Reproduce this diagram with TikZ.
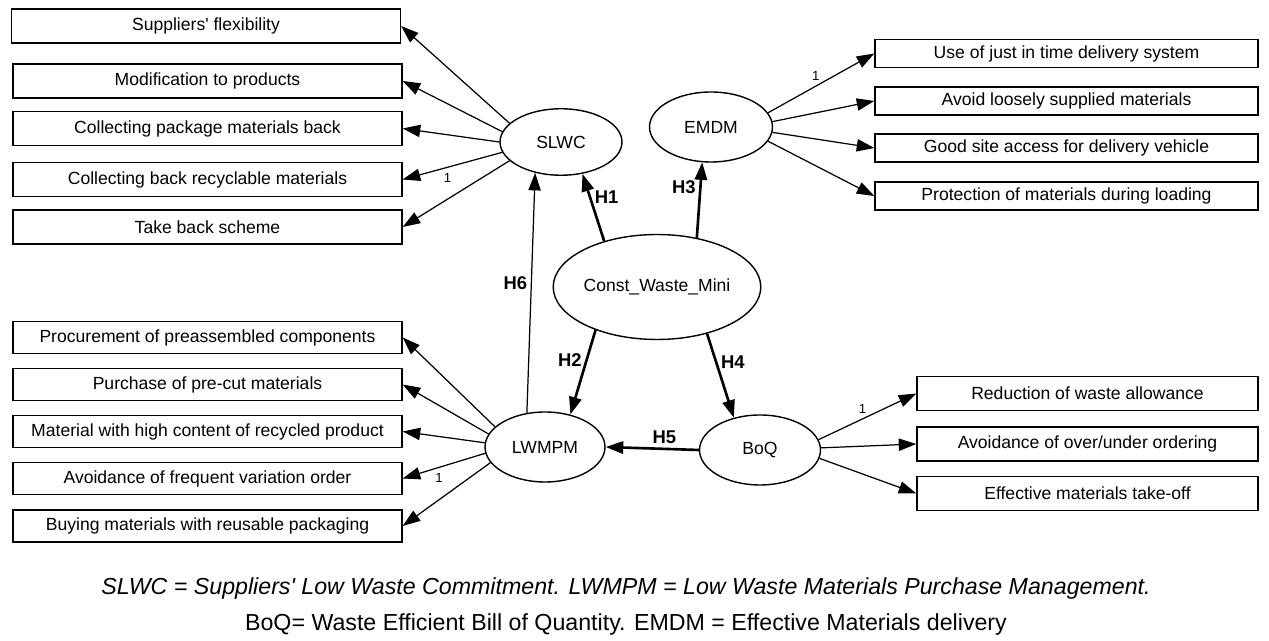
\documentclass[tikz,border=0pt]{standalone}
\usepackage{fontspec}
\setmainfont{Liberation Sans}
\usetikzlibrary{arrows.meta,shapes.geometric}

\begin{document}
\begin{tikzpicture} [
    x=0.02cm, y=-0.02cm,
    every node/.style = { font=\fontsize{10}{12}\selectfont },
    block/.style    = { rectangle, draw, line width=0.8pt, text centered,
                        inner sep=0pt, minimum width=#1, minimum height=0.66cm },
    block/.default  = 7.78cm,
    latent/.style   = { ellipse, draw, line width=0.8pt, inner sep=0pt,
                        minimum width=2.42cm, minimum height=1.4cm },
    line/.style     = { draw, line width=0.7pt, -{Triangle[length=10pt,width=7pt]} },
    hyp/.style      = { line, line width=1.5pt },
    hlabel/.style   = { font=\bfseries\fontsize{10.5}{12}\selectfont, inner sep=2pt },
    one/.style      = { font=\fontsize{7.5}{8}\selectfont, inner sep=1pt },
  ]
  \useasboundingbox (0,0) rectangle (1269,641);

  % indicators of SLWC
  \node[block, minimum height=0.68cm] (flex)  at (206,26)    {Suppliers\textquotesingle{} flexibility};
  \node[block, minimum height=0.68cm] (modif) at (207.5,81)  {Modification to products};
  \node[block, minimum height=0.68cm] (pack)  at (207.5,128.5) {Collecting package materials back};
  \node[block, minimum height=0.68cm] (recyc) at (207.5,179.5) {Collecting back recyclable materials};
  \node[block, minimum height=0.68cm] (takeb) at (207.5,227) {Take back scheme};

  % indicators of LWMPM
  \node[block, minimum height=0.64cm] (procure) at (207.5,337.5) {Procurement of preassembled components};
  \node[block, minimum height=0.64cm] (precut)  at (207.5,384.5) {Purchase of pre-cut materials};
  \node[block, minimum height=0.64cm] (recprod) at (207.5,431.5) {Material with high content of recycled product};
  \node[block, minimum height=0.64cm] (variat)  at (207.5,478.5) {Avoidance of frequent variation order};
  \node[block, minimum height=0.64cm] (reuse)   at (207.5,526)   {Buying materials with reusable packaging};

  % indicators of EMDM
  \node[block=7.66cm, minimum height=0.56cm] (jit)     at (1066.5,53.5) {Use of just in time delivery system};
  \node[block=7.66cm, minimum height=0.56cm] (loose)   at (1066.5,101)  {Avoid loosely supplied materials};
  \node[block=7.66cm, minimum height=0.56cm] (access)  at (1066.5,148)  {Good site access for delivery vehicle};
  \node[block=7.66cm, minimum height=0.56cm] (protect) at (1066.5,196)  {Protection of materials during loading};

  % indicators of BoQ
  \node[block=6.82cm, minimum height=0.68cm] (reduce)    at (1087.5,393.5) {Reduction of waste allowance};
  \node[block=6.82cm, minimum height=0.68cm] (overunder) at (1087.5,444)   {Avoidance of over/under ordering};
  \node[block=6.82cm, minimum height=0.68cm] (takeoff)   at (1087.5,493.5) {Effective materials take-off};

  % latent variables
  \node[latent, minimum width=2.44cm, minimum height=1.33cm] (slwc) at (561,142) {SLWC};
  \node[latent, minimum width=2.46cm] (emdm)  at (711,127) {EMDM};
  \node[latent, minimum width=3.98cm, minimum height=2.1cm] (cwm) at (657,287) {Const\_Waste\_Mini};
  \node[latent, minimum width=2.4cm] (lwmpm) at (545,447) {LWMPM};
  \node[latent] (boq) at (760,450) {BoQ};

  % legend
  \node[font=\itshape\fontsize{13.2}{16}\selectfont] (legend1) at (626,589)
    {SLWC = Suppliers\textquotesingle{} Low Waste Commitment. LWMPM = Low Waste Materials Purchase Management.};
  \node[font=\fontsize{13.2}{16}\selectfont] (legend2) at (626,625)
    {BoQ= Waste Efficient Bill of Quantity. EMDM = Effective Materials delivery};

  % connect the nodes
		\path [line] (slwc.160) -- (flex.east);
		\path [line] (slwc.170) -- (modif.east);
		\path [line] (slwc.180) -- (pack.east);
		\path [line] (slwc.190) -- node[one, pos=0.55, below=2pt]{1} (recyc.east);
		\path [line] (slwc.200) -- (takeb.east);

		\path [line] (lwmpm.158) -- (procure.east);
		\path [line] (lwmpm.167) -- (precut.east);
		\path [line] (lwmpm.176) -- (recprod.east);
		\path [line] (lwmpm.186) -- node[one, pos=0.56, below=2pt]{1} (variat.east);
		\path [line] (lwmpm.196) -- (reuse.east);

		\path [line] (emdm.14) -- node[one, pos=0.45, above=2pt]{1} (jit.west);
		\path [line] (emdm.5) -- (loose.west);
		\path [line] (emdm.355) -- (access.west);
		\path [line] (emdm.346) -- (protect.west);

		\path [line] (boq.10) -- node[one, pos=0.45, above=2pt]{1} (reduce.west);
		\path [line] (boq.2) -- (overunder.west);
		\path [line] (boq.352) -- (takeoff.west);

		\path [hyp] (cwm.139) -- node[hlabel, pos=0.65, right]{H1} (slwc.304);
		\path [hyp] (cwm.215) -- node[hlabel, pos=0.36, left]{H2} (lwmpm.52);
		\path [hyp] (cwm.51) -- node[hlabel, pos=0.67, left]{H3} (emdm.256);
		\path [hyp] (cwm.317) -- node[hlabel, pos=0.34, right]{H4} (boq.129);
		\path [hyp] (boq.west) -- node[hlabel, pos=0.37, above]{H5} (lwmpm.east);
		\path [line] (lwmpm.118) -- node[hlabel, pos=0.54, left]{H6} (slwc.230);
\end{tikzpicture}
\end{document}
